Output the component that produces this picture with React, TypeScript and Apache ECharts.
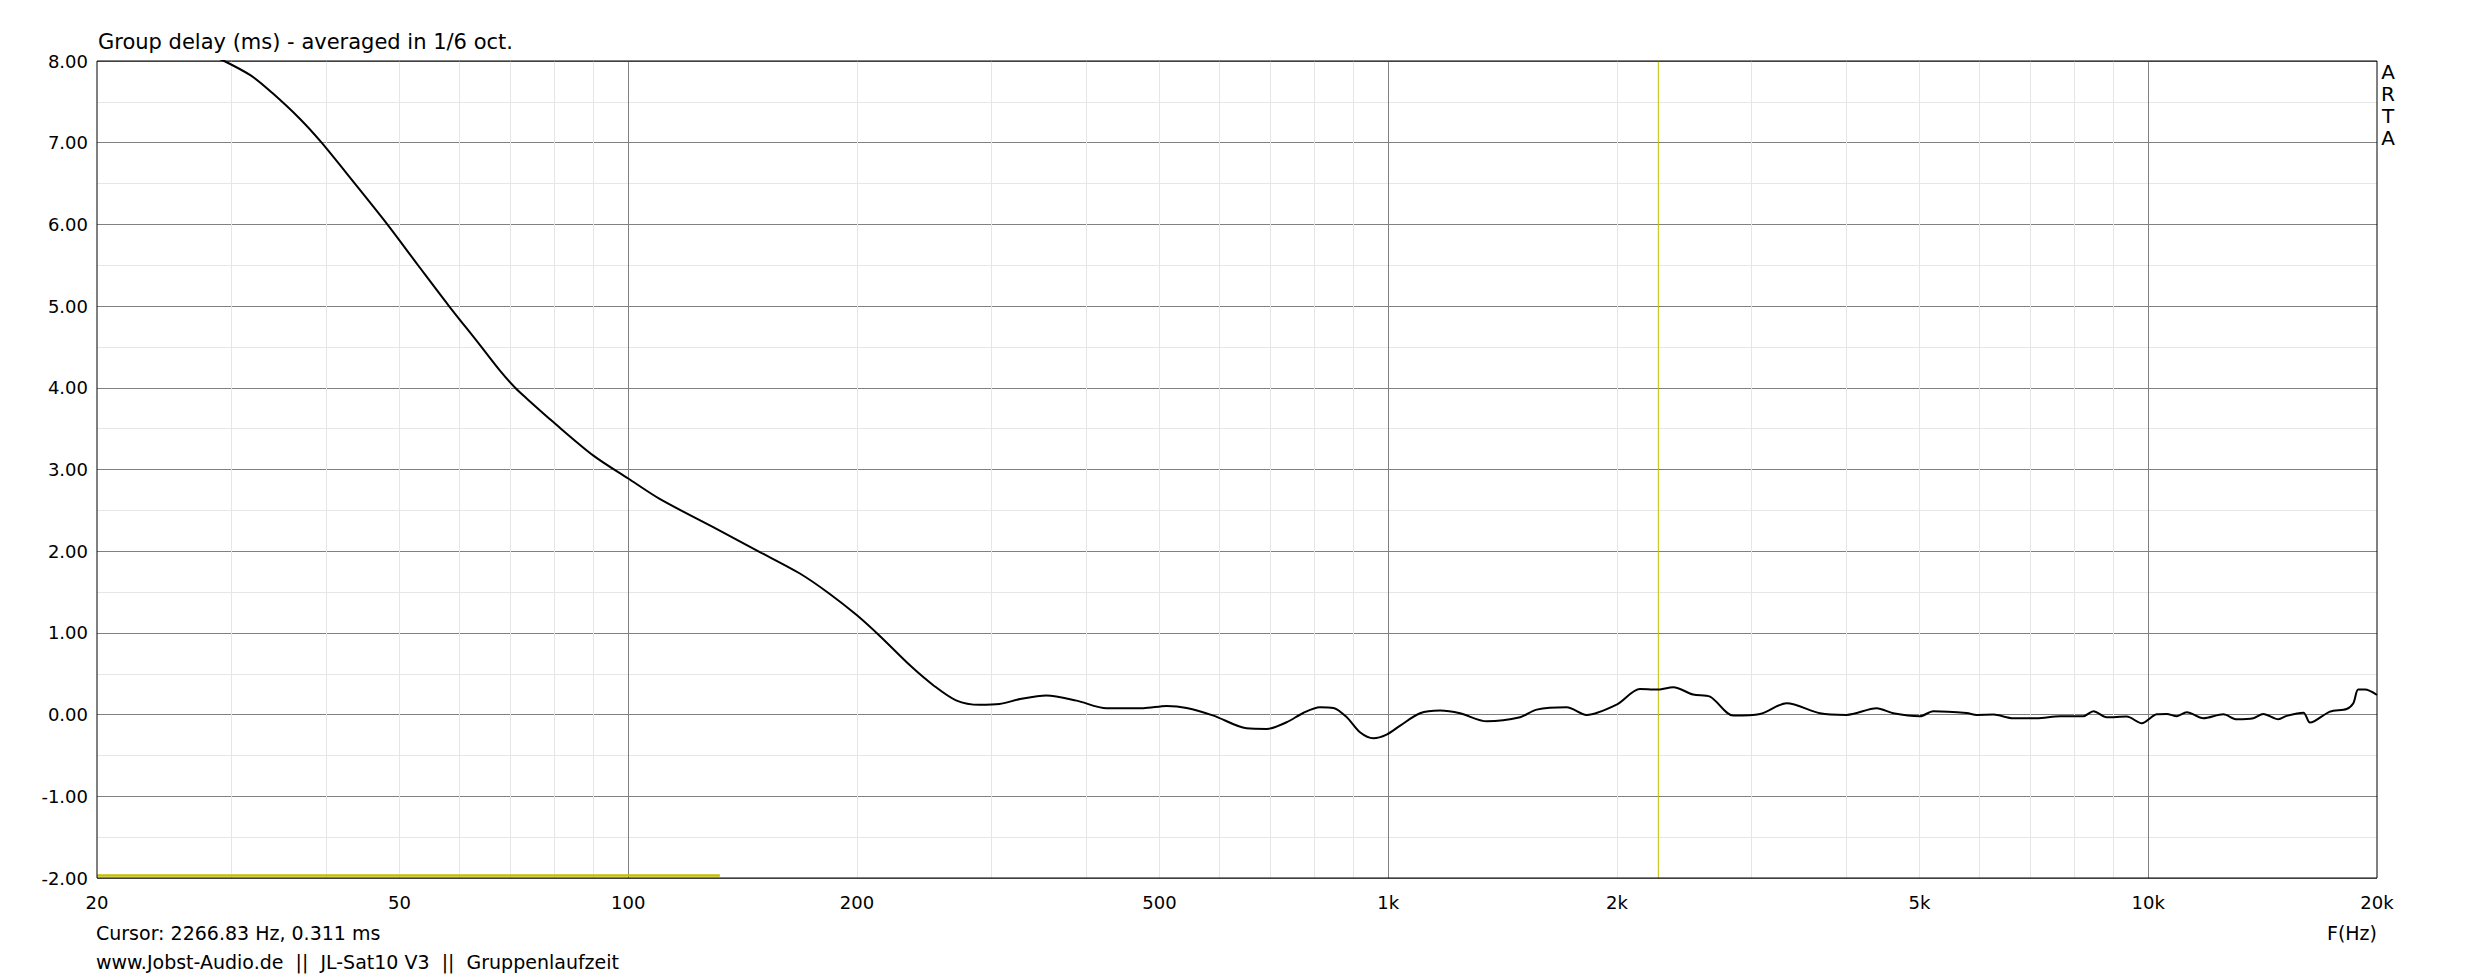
import { useEffect, useRef } from 'react'
import * as echarts from 'echarts'

// measured group delay, 1/6 oct smoothing
const FREQS = [
  25, 28, 29.4, 31.9, 34, 37, 39.5, 43.5, 48.2, 52.9, 58, 63.6, 67.8, 71, 73.5, 79.7, 90, 100,
  110, 129, 149, 168, 184, 200, 215, 235, 252, 270, 290, 308, 328, 355, 389, 426, 476, 511, 543,
  589, 651, 692, 735, 773, 813, 847, 882, 918, 956, 995, 1037, 1101, 1170, 1243, 1348, 1491, 1568,
  1717, 1824, 1998, 2144, 2255, 2372, 2519, 2651, 2845, 3085, 3344, 3699, 4009, 4392, 4619, 5008,
  5214, 5770, 5948, 6256, 6645, 7132, 7655, 8216, 8469, 8818, 9368, 9806, 10262, 10578, 10904,
  11239, 11816, 12555, 13074, 13750, 14171, 14833, 15213, 16001, 16325, 17345, 18243, 18615,
  18897, 19284, 20000,
]
const DELAY_MS = [
  8.25, 8.08, 8.0, 7.82, 7.61, 7.29, 7.0, 6.52, 6.0, 5.5, 5.01, 4.54, 4.21, 4.0, 3.87, 3.58, 3.17, 2.89,
  2.64, 2.3, 1.99, 1.73, 1.48, 1.215, 0.95, 0.6, 0.36, 0.175, 0.12, 0.13, 0.19, 0.233, 0.171, 0.078,
  0.078, 0.106, 0.082, -0.012, -0.167, -0.175, -0.094, 0.02, 0.09, 0.082, -0.033, -0.216, -0.29,
  -0.245, -0.135, 0.016, 0.049, 0.016, -0.082, -0.033, 0.061, 0.09, -0.004, 0.122, 0.314, 0.306,
  0.335, 0.245, 0.22, -0.012, 0.008, 0.139, 0.016, -0.004, 0.078, 0.016, -0.02, 0.041, 0.02, -0.004,
  0, -0.045, -0.045, -0.02, -0.02, 0.041, -0.033, -0.024, -0.106, 0.004, 0.008, -0.02, 0.029, -0.045,
  0.004, -0.057, -0.045, 0.008, -0.057, -0.016, 0.024, -0.098, 0.037, 0.069, 0.139, 0.306, 0.306,
  0.24,
]

const F_MIN = 20
const F_MAX = 20000
const TICK_FREQS = [20, 50, 100, 200, 500, 1000, 2000, 5000, 10000, 20000]
const TICK_LABELS = ['20', '50', '100', '200', '500', '1k', '2k', '5k', '10k', '20k']
const MAJOR_FREQS = [100, 1000, 10000]
const MINOR_FREQS = [
  30, 40, 50, 60, 70, 80, 90, 200, 300, 400, 500, 600, 700, 800, 900,
  2000, 3000, 4000, 5000, 6000, 7000, 8000, 9000,
]
const Y_MIN = -2
const Y_MAX = 8
const Y_STEP = 1

// cursor + level marker drawn by ARTA
const CURSOR_FREQ = 2266.83
const CURSOR_MS = 0.311
const MARKER_FREQS = [20, 132]
const MARKER_LEVEL = -1.97

const FONT = '"DejaVu Sans", sans-serif'
const YELLOW = '#c4c000'

const lg = (f: number) => Math.log10(f)

export default function App() {
  const chartRef = useRef<HTMLDivElement>(null)

  useEffect(() => {
    if (!chartRef.current) return
    const chart = echarts.init(chartRef.current, null, { renderer: 'svg' })

    const xBase = {
      type: 'value' as const,
      min: lg(F_MIN),
      max: lg(F_MAX),
      position: 'bottom' as const,
      axisLine: { show: false },
    }

    chart.setOption({
      animation: false,
      backgroundColor: '#ffffff',
      grid: {
        left: 97,
        right: 96,
        top: 61,
        bottom: 100,
        show: true,
        borderColor: '#000000',
        borderWidth: 1,
        backgroundColor: 'transparent',
        z: 10,
      },
      xAxis: [
        {
          ...xBase,
          axisLabel: { show: false },
          axisTick: { show: false, customValues: MINOR_FREQS.map(lg) },
          splitLine: { show: true, lineStyle: { color: '#e6e6e6', width: 1 } },
        },
        {
          ...xBase,
          axisTick: { show: false, customValues: MAJOR_FREQS.map(lg) },
          splitLine: { show: true, lineStyle: { color: '#808080', width: 1 } },
          axisLabel: {
            customValues: TICK_FREQS.map(lg),
            margin: 15,
            color: '#000',
            fontFamily: FONT,
            fontSize: 18,
            formatter: (v: number) => {
              let best = 0
              TICK_FREQS.forEach((f, i) => {
                if (Math.abs(lg(f) - v) < Math.abs(lg(TICK_FREQS[best]) - v)) best = i
              })
              return TICK_LABELS[best]
            },
          },
        },
      ],
      yAxis: {
        type: 'value',
        min: Y_MIN,
        max: Y_MAX,
        interval: Y_STEP,
        axisLine: { show: false },
        axisTick: { show: false },
        axisLabel: {
          margin: 9,
          color: '#000',
          fontFamily: FONT,
          fontSize: 18,
          formatter: (v: number) => v.toFixed(2),
        },
        splitLine: { show: true, lineStyle: { color: '#808080', width: 1 } },
        minorTick: { show: false, splitNumber: 2 },
        minorSplitLine: { show: true, lineStyle: { color: '#e6e6e6', width: 1 } },
      },
      graphic: [
        {
          type: 'text',
          x: 98,
          y: 42,
          style: {
            text: 'Group delay (ms) - averaged in 1/6 oct.',
            fill: '#000',
            font: `21px ${FONT}`,
            textAlign: 'left',
            textVerticalAlign: 'middle',
          },
        },
        {
          type: 'text',
          x: 2388,
          y: 61,
          style: {
            text: 'A\nR\nT\nA',
            fill: '#000',
            font: `20px ${FONT}`,
            lineHeight: 22,
            textAlign: 'center',
            textVerticalAlign: 'top',
          },
        },
        {
          type: 'text',
          x: 2377,
          y: 933,
          style: {
            text: 'F(Hz)',
            fill: '#000',
            font: `19px ${FONT}`,
            textAlign: 'right',
            textVerticalAlign: 'middle',
          },
        },
        {
          type: 'text',
          x: 96,
          y: 933,
          style: {
            text: `Cursor: ${CURSOR_FREQ.toFixed(2)} Hz, ${CURSOR_MS.toFixed(3)} ms`,
            fill: '#000',
            font: `19px ${FONT}`,
            textAlign: 'left',
            textVerticalAlign: 'middle',
          },
        },
        {
          type: 'text',
          x: 96,
          y: 962,
          style: {
            text: 'www.Jobst-Audio.de  ||  JL-Sat10 V3  ||  Gruppenlaufzeit',
            fill: '#000',
            font: `19px ${FONT}`,
            textAlign: 'left',
            textVerticalAlign: 'middle',
          },
        },
      ],
      series: [
        {
          name: 'marker',
          type: 'line',
          xAxisIndex: 1,
          data: MARKER_FREQS.map((f) => [lg(f), MARKER_LEVEL]),
          showSymbol: false,
          lineStyle: { color: YELLOW, width: 2.5 },
          z: 2,
        },
        {
          name: 'cursor',
          type: 'line',
          xAxisIndex: 1,
          data: [
            [lg(CURSOR_FREQ), Y_MIN],
            [lg(CURSOR_FREQ), Y_MAX],
          ],
          showSymbol: false,
          lineStyle: { color: YELLOW, width: 1 },
          z: 2,
        },
        {
          name: 'Group delay',
          type: 'line',
          xAxisIndex: 1,
          data: FREQS.map((f, i) => [lg(f), DELAY_MS[i]]),
          showSymbol: false,
          smooth: 0.3,
          clip: true,
          lineStyle: { color: '#000000', width: 2 },
          z: 3,
        },
      ],
    })

    return () => {
      chart.dispose()
    }
  }, [])

  return (
    <div
      ref={chartRef}
      style={{ position: 'fixed', left: 0, top: 0, width: 2473, height: 978, background: '#fff' }}
    />
  )
}
